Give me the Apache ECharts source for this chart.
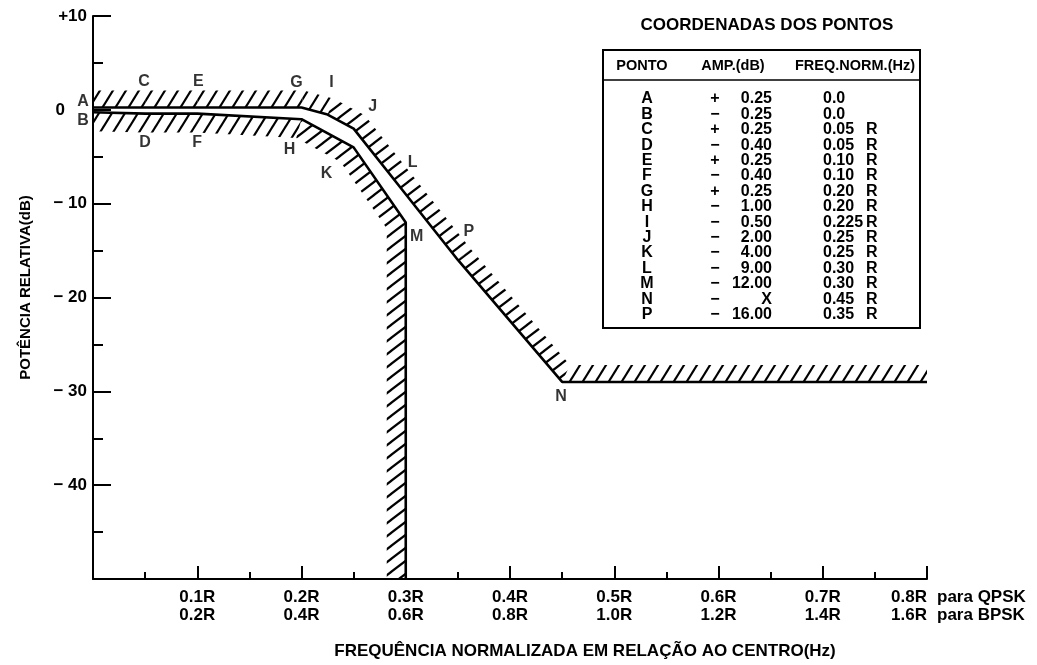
<!DOCTYPE html>
<html>
<head>
<meta charset="utf-8">
<title>Máscara espectral</title>
<script src="https://cdn.jsdelivr.net/npm/echarts@6/dist/echarts.min.js"></script>
<style>
html, body { margin: 0; padding: 0; background: #fff; }
#chart { width: 1037px; height: 665px; }
</style>
</head>
<body>
<div id="chart"></div>
<script>
// pontos da mascara (tabela "COORDENADAS DOS PONTOS")
const pointNames = ['A', 'B', 'C', 'D', 'E', 'F', 'G', 'H', 'I', 'J', 'K', 'L', 'M', 'N', 'P'];
const ampDb = [0.25, -0.25, 0.25, -0.40, 0.25, -0.40, 0.25, -1.00, -0.50, -2.00, -4.00, -9.00, -12.00, null, -16.00];
const freqR = [0.0, 0.0, 0.05, 0.05, 0.10, 0.10, 0.20, 0.20, 0.225, 0.25, 0.25, 0.30, 0.30, 0.45, 0.35];
// nivel do ponto N ("X" na tabela)
const nLevelDb = -29;

// contornos superior e inferior
const upperPath = ['A', 'C', 'E', 'G', 'I', 'J', 'L', 'P', 'N'];
const lowerPath = ['B', 'D', 'F', 'H', 'K', 'M'];

// eixos
const xMax = 0.8;
const yMin = -50;
const yMax = 10;
const qpskLabels = ['0.1R', '0.2R', '0.3R', '0.4R', '0.5R', '0.6R', '0.7R', '0.8R'];
const bpskLabels = ['0.2R', '0.4R', '0.6R', '0.8R', '1.0R', '1.2R', '1.4R', '1.6R'];
const rowNames = ['para QPSK', 'para BPSK'];
const yTickValues = [10, 0, -10, -20, -30, -40];
const yTickText = ['+10', '0', '\u2212 10', '\u2212 20', '\u2212 30', '\u2212 40'];

const FONT = '"Liberation Sans", Arial, Helvetica, sans-serif';

const idx = name => pointNames.indexOf(name);
const amp = i => (ampDb[i] === null ? nLevelDb : ampDb[i]);
const pt = name => [freqR[idx(name)], amp(idx(name))];

const upperLine = upperPath.map(pt).concat([[xMax, nLevelDb]]);
const lowerLine = lowerPath.map(pt).concat([[freqR[idx('M')], yMin]]);

// hachuras
function makeHatch(w, h, lw) {
    const c = document.createElement('canvas');
    c.width = w;
    c.height = h;
    const ctx = c.getContext('2d');
    ctx.strokeStyle = '#000';
    ctx.lineWidth = lw;
    for (const k of [-1, 0, 1]) {
        ctx.beginPath();
        ctx.moveTo(-w, 2 * h + k * h);
        ctx.lineTo(2 * w, -h + k * h);
        ctx.stroke();
    }
    return { image: c, repeat: 'repeat' };
}
const steepHatch = makeHatch(13, 21, 2.2);
const flatHatch = makeHatch(17, 13, 2.2);

function bandRenderer(path, thick, side) {
    return function (params, api) {
        const pts = path.map(p => api.coord(p));
        const n = pts.length;
        const normals = [];
        for (let i = 0; i < n - 1; i++) {
            const dx = pts[i + 1][0] - pts[i][0];
            const dy = pts[i + 1][1] - pts[i][1];
            const len = Math.hypot(dx, dy);
            normals.push(side > 0 ? [dy / len, -dx / len] : [-dy / len, dx / len]);
        }
        const off = pts.map((p, i) => {
            if (i === 0 || i === n - 1) {
                const m = normals[i === 0 ? 0 : n - 2];
                return [p[0] + m[0] * thick, p[1] + m[1] * thick];
            }
            const a = normals[i - 1];
            const b = normals[i];
            let mx = a[0] + b[0];
            let my = a[1] + b[1];
            const l = Math.hypot(mx, my);
            mx /= l;
            my /= l;
            const s = thick / (mx * a[0] + my * a[1]);
            return [p[0] + mx * s, p[1] + my * s];
        });
        const children = [];
        for (let i = 0; i < n - 1; i++) {
            const dx = pts[i + 1][0] - pts[i][0];
            const dy = pts[i + 1][1] - pts[i][1];
            const flat = Math.abs(dy) < 0.3 * Math.abs(dx);
            children.push({
                type: 'polygon',
                shape: { points: [pts[i], pts[i + 1], off[i + 1], off[i]] },
                style: { fill: flat ? steepHatch : flatHatch, stroke: null }
            });
        }
        return { type: 'group', children };
    };
}

// posicao dos rotulos dos pontos (px)
const labelOffset = {
    A: [-10, -6], B: [-10, 8], C: [-1, -26], D: [0, 29], E: [1, -26], F: [0, 29],
    G: [-5, -25], H: [-12, 30], I: [4, -32], J: [19, -22], K: [-27, 26], L: [7, -32],
    M: [11, 14], N: [-1, 15], P: [11, -28]
};

// tabela
const signText = ampDb.map(v => (v === null || v < 0 ? '\u2212' : '+'));
const ampText = ampDb.map(v => (v === null ? 'X' : Math.abs(v).toFixed(2)));
const freqText = freqR.map(f => (f === 0 ? '0.0' : (Math.round(f * 1000) % 10 ? f.toFixed(3) : f.toFixed(2))));
const rText = freqR.map(f => (f === 0 ? '' : 'R'));
const rowH = 15.4;
const rowTop = 99 - rowH / 2;

function colText(lines, x, align) {
    return {
        type: 'text',
        x: x,
        y: rowTop,
        style: {
            text: lines.join('\n'),
            textAlign: align,
            textVerticalAlign: 'top',
            lineHeight: rowH,
            font: 'bold 16px ' + FONT,
            fill: '#000'
        }
    };
}

const chart = echarts.init(document.getElementById('chart'));
chart.setOption({
    animation: false,
    backgroundColor: '#fff',
    grid: { left: 93, right: 110, top: 16, bottom: 86 },
    xAxis: {
        type: 'value',
        min: 0,
        max: xMax,
        interval: 0.1,
        name: 'FREQUÊNCIA NORMALIZADA EM RELAÇÃO AO CENTRO(Hz)',
        nameLocation: 'middle',
        nameGap: 64,
        nameTextStyle: { color: '#000', fontWeight: 'bold', fontSize: 17, fontFamily: FONT, padding: [0, 0, 0, 150] },
        axisLine: { onZero: false, lineStyle: { color: '#000', width: 2 } },
        axisTick: { inside: true, length: 13, lineStyle: { color: '#000', width: 2 } },
        minorTick: { show: true, splitNumber: 2, length: 7, lineStyle: { color: '#000', width: 2 } },
        splitLine: { show: false },
        axisLabel: {
            color: '#000',
            fontWeight: 'bold',
            fontSize: 17,
            fontFamily: FONT,
            lineHeight: 18,
            margin: 9,
            showMaxLabel: true,
            alignMaxLabel: 'right',
            formatter: v => {
                const i = Math.round(v * 10) - 1;
                if (i < 0) return '';
                return qpskLabels[i] + '\n' + bpskLabels[i];
            }
        }
    },
    yAxis: {
        type: 'value',
        min: yMin,
        max: yMax,
        interval: 10,
        name: 'POTÊNCIA RELATIVA(dB)',
        nameLocation: 'middle',
        nameRotate: 90,
        nameGap: 60,
        nameTextStyle: { color: '#000', fontWeight: 'bold', fontSize: 15, fontFamily: FONT, padding: [0, 0, 0, 20] },
        axisLine: { show: true, onZero: false, lineStyle: { color: '#000', width: 2 } },
        axisTick: { show: true, inside: true, length: 18, lineStyle: { color: '#000', width: 2 } },
        minorTick: { show: true, splitNumber: 2, length: 10, lineStyle: { color: '#000', width: 2 } },
        splitLine: { show: false },
        axisLabel: {
            color: '#000',
            fontWeight: 'bold',
            fontSize: 17,
            fontFamily: FONT,
            margin: 6,
            formatter: v => {
                const i = yTickValues.indexOf(v);
                if (i < 0) return '';
                return v === 0 ? '{z|' + yTickText[i] + '}' : yTickText[i];
            },
            rich: {
                z: { padding: [0, 22, 0, 0], color: '#000', fontWeight: 'bold', fontSize: 17, fontFamily: FONT }
            }
        }
    },
    graphic: [
        {
            type: 'text', x: 937, y: 588,
            style: { text: rowNames.join('\n'), textAlign: 'left', textVerticalAlign: 'top', lineHeight: 18, font: 'bold 17px ' + FONT, fill: '#000' }
        },
        {
            type: 'text', x: 767, y: 25,
            style: { text: 'COORDENADAS DOS PONTOS', textAlign: 'center', textVerticalAlign: 'middle', font: 'bold 17px ' + FONT, fill: '#000' }
        },
        {
            type: 'rect', shape: { x: 603, y: 50, width: 317, height: 278 },
            style: { fill: '#fff', stroke: '#000', lineWidth: 2 }
        },
        {
            type: 'line', shape: { x1: 603, y1: 80, x2: 920, y2: 80 },
            style: { stroke: '#000', lineWidth: 1.5 }
        },
        {
            type: 'text', x: 642, y: 66,
            style: { text: 'PONTO', textAlign: 'center', textVerticalAlign: 'middle', font: 'bold 14.5px ' + FONT, fill: '#000' }
        },
        {
            type: 'text', x: 733, y: 66,
            style: { text: 'AMP.(dB)', textAlign: 'center', textVerticalAlign: 'middle', font: 'bold 14.5px ' + FONT, fill: '#000' }
        },
        {
            type: 'text', x: 855, y: 66,
            style: { text: 'FREQ.NORM.(Hz)', textAlign: 'center', textVerticalAlign: 'middle', font: 'bold 14.5px ' + FONT, fill: '#000' }
        },
        colText(pointNames, 647, 'center'),
        colText(signText, 715, 'center'),
        colText(ampText, 772, 'right'),
        colText(freqText, 823, 'left'),
        colText(rText, 866, 'left')
    ],
    series: [
        {
            type: 'custom',
            coordinateSystem: 'cartesian2d',
            data: [[0, 0]],
            clip: false,
            silent: true,
            z: 1,
            renderItem: bandRenderer(upperLine, 17, 1)
        },
        {
            type: 'custom',
            coordinateSystem: 'cartesian2d',
            data: [[0, 0]],
            clip: false,
            silent: true,
            z: 1,
            renderItem: bandRenderer(lowerLine, 19, -1)
        },
        {
            type: 'line',
            data: upperLine,
            symbol: 'none',
            z: 3,
            lineStyle: { color: '#000', width: 2.6 }
        },
        {
            type: 'line',
            data: lowerLine,
            symbol: 'none',
            z: 3,
            lineStyle: { color: '#000', width: 2.6 }
        },
        {
            type: 'scatter',
            symbolSize: 0,
            z: 4,
            data: pointNames.map((nm, i) => ({
                name: nm,
                value: [freqR[i], amp(i)],
                label: { offset: labelOffset[nm] }
            })),
            label: {
                show: true,
                position: 'inside',
                formatter: '{b}',
                color: '#000',
                fontWeight: 'bold',
                fontSize: 16,
                fontFamily: FONT
            }
        }
    ]
});
</script>
</body>
</html>
